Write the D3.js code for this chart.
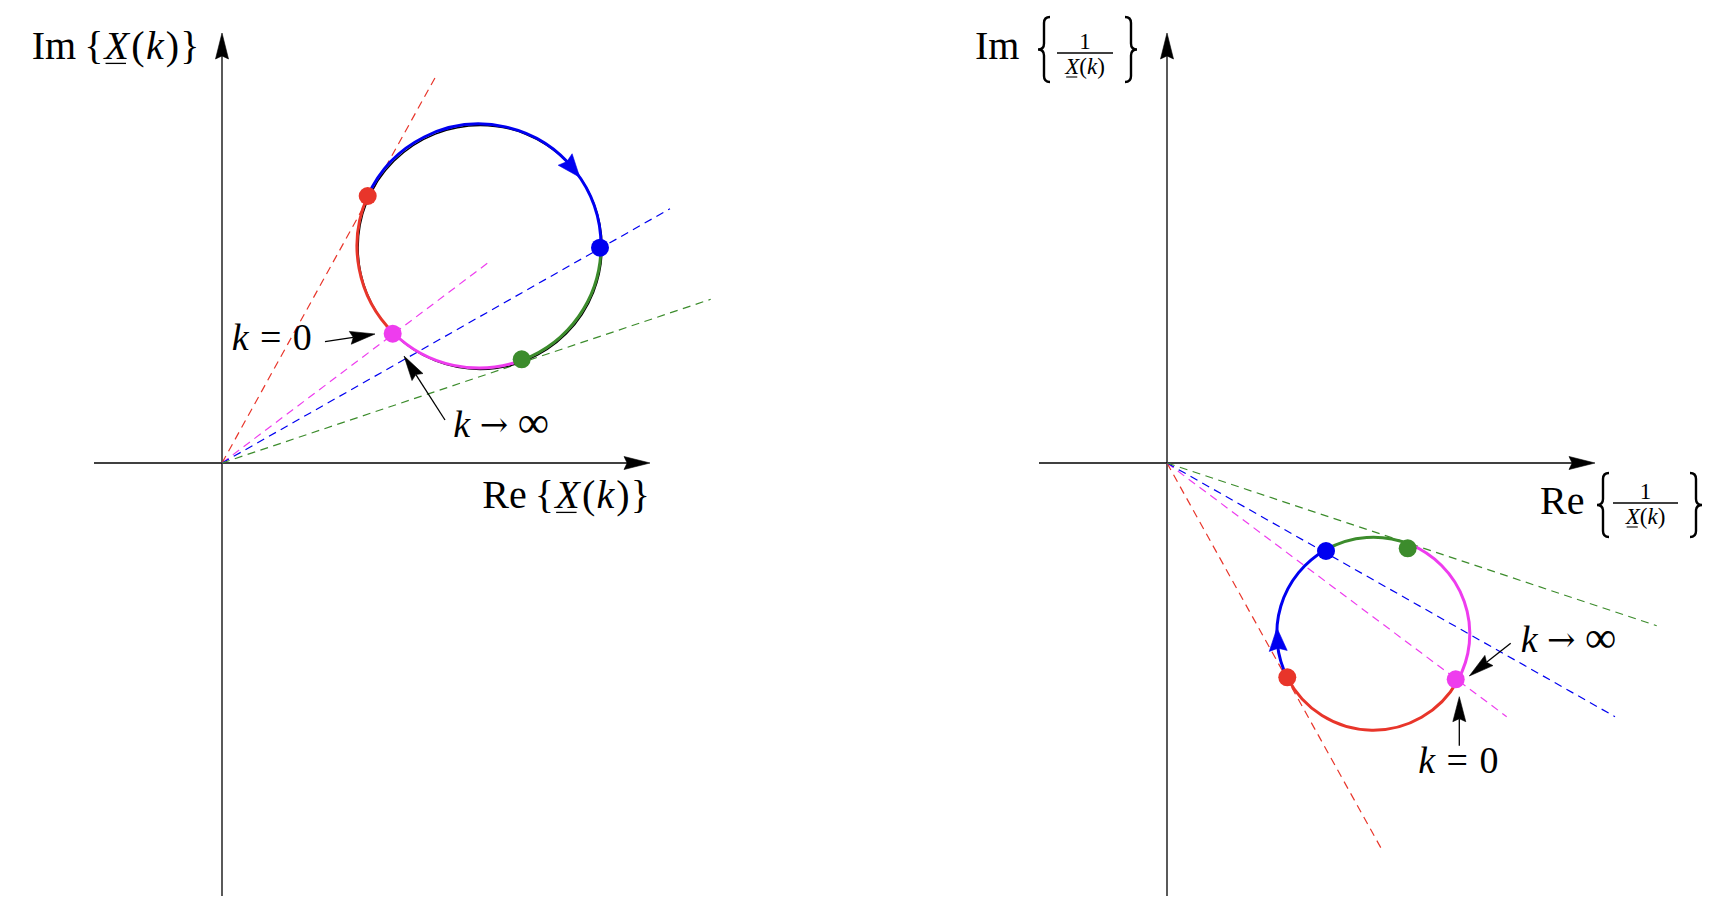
<!DOCTYPE html>
<html>
<head>
<meta charset="utf-8">
<script src="https://cdn.jsdelivr.net/npm/d3@7"></script>
<style>
  html, body { margin: 0; padding: 0; background: #ffffff; }
  svg { display: block; }
  text { font-family: "Liberation Serif", "DejaVu Serif", serif; fill: #000; }
</style>
</head>
<body>
<svg id="chart" width="1722" height="916"></svg>
<script>
// ---------------- DATA (in plot units) ----------------
// Points on each locus, listed in traversal order starting at k = 0
const pointNames = ["magenta", "red", "blue", "green"];

// Left plot: X(k)
const leftPointX = [1.707, 1.457, 3.78, 2.997];
const leftPointY = [1.293, 2.67, 2.153, 1.037];
const leftCircle = [2.57, 2.17, 1.22];            // centre x, centre y, radius
const leftRayEndX = [2.653, 2.14, 4.48, 4.887];   // dashed rays from origin
const leftRayEndY = [1.997, 3.87, 2.543, 1.637];
const leftArcArrowDeg = 34.3;                      // direction arrow on locus

// Right plot: 1 / X(k)
const rightPointX = [2.887, 1.203, 1.59, 2.407];
const rightPointY = [-2.163, -2.143, -0.88, -0.853];
const rightCircle = [2.063, -1.707, 0.965];
const rightRayEndX = [3.397, 2.147, 4.48, 4.897];
const rightRayEndY = [-2.537, -3.863, -2.537, -1.627];
const rightArcArrowDeg = 176.6;

// Axis extents (plot units)
const axisXRange = [-1.28, 4.28];
const axisYRange = [-4.33, 4.30];

// Annotations: arrow tail/tip and label anchor (plot units)
const leftNotes = [
  { label: "k0",   tail: [1.03, 1.213], tip: [1.53, 1.29],  at: [0.097, 1.13] },
  { label: "kinf", tail: [2.23, 0.43],  tip: [1.82, 1.07],  at: [2.313, 0.263] }
];
const rightNotes = [
  { label: "kinf", tail: [3.437, -1.803], tip: [3.023, -2.13], at: [3.537, -1.887] },
  { label: "k0",   tail: [2.923, -2.827], tip: [2.923, -2.337], at: [2.513, -3.103] }
];

// ---------------- STYLE ----------------
const colors = { red: "#e8352a", blue: "#0000f0", green: "#3c8c2c", magenta: "#ee3cee" };
const FS = 38;

const svg = d3.select("#chart");

// scales (1 unit = 100 px, equal aspect)
const xL = d3.scaleLinear().domain([0, 1]).range([222, 322]);
const xR = d3.scaleLinear().domain([0, 1]).range([1167, 1267]);
const yS = d3.scaleLinear().domain([0, 1]).range([463, 363]);

// ---------------- helpers ----------------
function arrowHead(g, x1, y1, x2, y2, len, wid, color) {
  const dx = x2 - x1, dy = y2 - y1, d = Math.hypot(dx, dy);
  const ux = dx / d, uy = dy / d, nx = -uy, ny = ux;
  const bx = x2 - ux * len, by = y2 - uy * len;
  g.append("path")
    .attr("d", `M${x2},${y2} L${bx + nx * wid / 2},${by + ny * wid / 2} L${bx + ux * len * 0.12},${by + uy * len * 0.12} L${bx - nx * wid / 2},${by - ny * wid / 2} Z`)
    .attr("fill", color).attr("stroke", color).attr("stroke-width", 0.6).attr("stroke-linejoin", "miter");
  return [bx + ux * len * 0.12, by + uy * len * 0.12];
}
function arrow(g, x1, y1, x2, y2, color, w, len, wid) {
  const base = arrowHead(g, x1, y1, x2, y2, len, wid, color);
  g.append("line").attr("x1", x1).attr("y1", y1).attr("x2", base[0]).attr("y2", base[1])
    .attr("stroke", color).attr("stroke-width", w);
}

function mathText(g, x, y, pieces, anchor, size) {
  const grp = g.append("g");
  let cx = 0;
  pieces.forEach(p => {
    if (p.gap !== undefined) { cx += p.gap * size; return; }
    const fs = p.size || size;
    const t = grp.append("text").attr("x", cx).attr("y", p.dy || 0)
      .style("font-size", fs + "px")
      .style("font-style", p.it ? "italic" : "normal")
      .text(p.t);
    if (p.font) t.style("font-family", p.font);
    const w = t.node().getComputedTextLength();
    if (p.ul) {
      grp.append("line").attr("x1", cx + 1).attr("x2", cx + w - 3)
        .attr("y1", fs * 0.11).attr("y2", fs * 0.11)
        .attr("stroke", "#000").attr("stroke-width", 1.3);
    }
    cx += w;
  });
  let tx = x;
  if (anchor === "end") tx = x - cx;
  if (anchor === "middle") tx = x - cx / 2;
  grp.attr("transform", `translate(${tx},${y})`);
  return cx;
}

function brace(g, xt, yTop, yBot, w, dir) {
  // dir = +1 : "{"  (tip on the left at xt),  dir = -1 : "}"
  const xs = xt + dir * w * 0.5, xe = xt + dir * w, ym = (yTop + yBot) / 2, q = w * 0.5;
  g.append("path")
    .attr("d", `M${xe},${yTop} Q${xs},${yTop} ${xs},${yTop + q} L${xs},${ym - q} Q${xs},${ym} ${xt},${ym} Q${xs},${ym} ${xs},${ym + q} L${xs},${yBot - q} Q${xs},${yBot} ${xe},${yBot}`)
    .attr("fill", "none").attr("stroke", "#000").attr("stroke-width", 2.4);
}

function fraction(g, mid, barY, barX0, barX1, size) {
  g.append("line").attr("x1", barX0).attr("x2", barX1).attr("y1", barY).attr("y2", barY)
    .attr("stroke", "#000").attr("stroke-width", 1.3);
  // numerator
  g.append("text").attr("text-anchor", "middle").style("font-size", size + "px")
    .attr("x", mid).attr("y", barY - 4).text("1");
  // denominator
  const t = g.append("text").attr("text-anchor", "middle").style("font-size", size + "px")
    .attr("x", mid).attr("y", barY + 21);
  t.append("tspan").style("font-style", "italic").text("X");
  t.append("tspan").text("(");
  t.append("tspan").style("font-style", "italic").text("k");
  t.append("tspan").text(")");
  const node = t.node();
  const s = node.getStartPositionOfChar(0), e = node.getEndPositionOfChar(0);
  g.append("line").attr("x1", s.x + 1).attr("x2", e.x - 2).attr("y1", barY + 24).attr("y2", barY + 24)
    .attr("stroke", "#000").attr("stroke-width", 1.1);
}

function fracLabel(g, xStart, baseline, head, barY, barX0, barX1, braceX0, braceX1, braceTop, braceBot) {
  mathText(g, xStart, baseline, [{ t: head }], "start", 40);
  brace(g, braceX0, braceTop, braceBot, 12, 1);
  brace(g, braceX1, braceTop, braceBot, 12, -1);
  fraction(g, (barX0 + barX1) / 2, barY, barX0, barX1, 23);
}

const k0Pieces = [{ t: "k", it: true }, { gap: 0.3 }, { t: "=" }, { gap: 0.3 }, { t: "0" }];
const kinfPieces = [{ t: "k", it: true }, { gap: 0.25 }, { t: "\u2192", font: "DejaVu Serif", size: 34, dy: -1 }, { gap: 0.25 }, { t: "\u221E", size: 44 }];

// ---------------- draw one plot ----------------
function drawPlot(xs, px, py, circle, rayX, rayY, arcArrowDeg, notes, underlay) {
  const g = svg.append("g");
  const ox = xs(0), oy = yS(0);

  // axes
  const axG = g.append("g");
  axG.append("line").attr("x1", xs(axisXRange[0])).attr("y1", oy).attr("x2", xs(axisXRange[1]) - 20).attr("y2", oy)
    .attr("stroke", "#000").attr("stroke-width", 1.3);
  arrowHead(axG, xs(0), oy, xs(axisXRange[1]), oy, 26, 13, "#000");
  axG.append("line").attr("x1", ox).attr("y1", yS(axisYRange[0])).attr("x2", ox).attr("y2", yS(axisYRange[1]) + 20)
    .attr("stroke", "#000").attr("stroke-width", 1.3);
  arrowHead(axG, ox, oy, ox, yS(axisYRange[1]), 26, 13, "#000");

  // dashed rays
  pointNames.forEach((n, i) => {
    g.append("line").attr("x1", ox).attr("y1", oy).attr("x2", xs(rayX[i])).attr("y2", yS(rayY[i]))
      .attr("stroke", colors[n]).attr("stroke-width", 1.2).attr("stroke-dasharray", "8,5.5");
  });

  // locus
  const ccx = xs(circle[0]), ccy = yS(circle[1]), r = xs(circle[2]) - xs(0);
  if (underlay) {
    g.append("circle").attr("cx", ccx + 1.2).attr("cy", ccy + 1.5).attr("r", r)
      .attr("fill", "none").attr("stroke", "#000").attr("stroke-width", 1.3);
  }
  const ang = pointNames.map((n, i) => Math.atan2(yS(py[i]) - ccy, xs(px[i]) - ccx));
  pointNames.forEach((n, i) => {
    const j = (i + 1) % pointNames.length;
    let a0 = ang[i], a1 = ang[j];
    while (a1 <= a0) a1 += 2 * Math.PI;
    const p = d3.path();
    p.arc(ccx, ccy, r, a0, a1, false);
    g.append("path").attr("d", p.toString()).attr("fill", "none")
      .attr("stroke", colors[pointNames[j]]).attr("stroke-width", 3);
  });

  // direction arrow on the blue arc (clockwise on screen)
  const tipA = -arcArrowDeg * Math.PI / 180;
  const baseA = tipA - 22 / r;
  const tip = [ccx + r * Math.cos(tipA), ccy + r * Math.sin(tipA)];
  const bas = [ccx + r * Math.cos(baseA), ccy + r * Math.sin(baseA)];
  arrowHead(g, bas[0], bas[1], tip[0], tip[1], 23, 18, colors.blue);

  // points
  pointNames.forEach((n, i) => {
    g.append("circle").attr("cx", xs(px[i])).attr("cy", yS(py[i])).attr("r", 9).attr("fill", colors[n]);
  });

  // annotations
  notes.forEach(nt => {
    arrow(g, xs(nt.tail[0]), yS(nt.tail[1]), xs(nt.tip[0]), yS(nt.tip[1]), "#000", 1.3, 25, 13);
    mathText(g, xs(nt.at[0]), yS(nt.at[1]), nt.label === "k0" ? k0Pieces : kinfPieces, "start", FS);
  });
  return g;
}

const gl = drawPlot(xL, leftPointX, leftPointY, leftCircle, leftRayEndX, leftRayEndY, leftArcArrowDeg, leftNotes, true);
const gr = drawPlot(xR, rightPointX, rightPointY, rightCircle, rightRayEndX, rightRayEndY, rightArcArrowDeg, rightNotes, false);

// ---------------- axis labels ----------------
const xkPieces = [{ t: "{" }, { gap: 0.03 }, { t: "X", it: true, ul: true }, { gap: 0.06 }, { t: "(" }, { gap: 0.03 },
                  { t: "k", it: true }, { gap: 0.05 }, { t: ")" }, { gap: 0.03 }, { t: "}" }];
mathText(gl, 31.7, 59, [{ t: "Im" }, { gap: 0.2 }].concat(xkPieces), "start", 40);
mathText(gl, 650, 508, [{ t: "Re" }, { gap: 0.2 }].concat(xkPieces), "end", 40);

fracLabel(gr, 975, 59, "Im", 53, 1057, 1113, 1038, 1137, 17, 82);
fracLabel(gr, 1540, 514, "Re", 503, 1613, 1678, 1597, 1702, 473, 537);
</script>
</body>
</html>
